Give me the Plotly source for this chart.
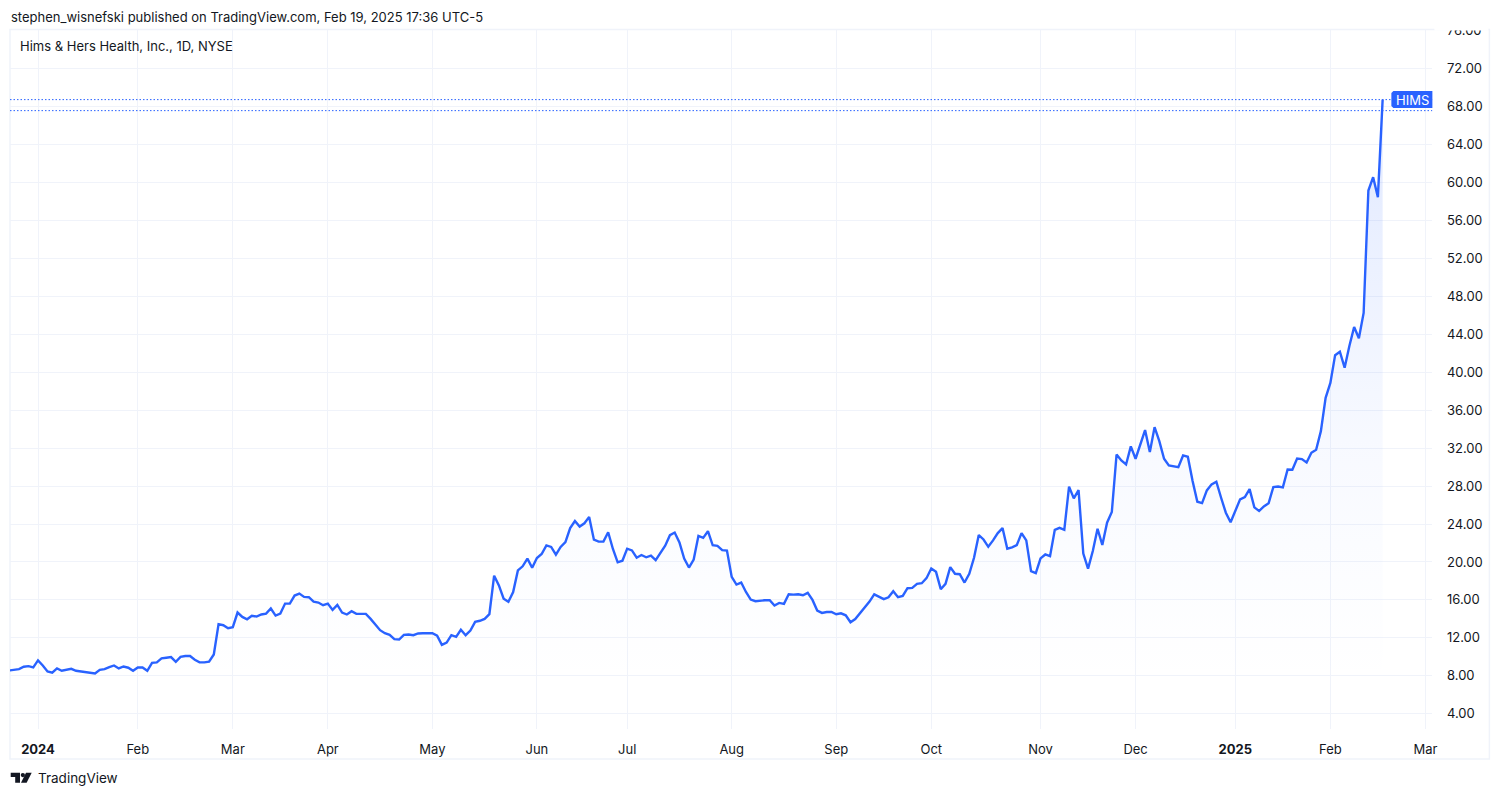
import plotly.graph_objects as go

# daily closes, one per trading day
closes = [
    8.56, 8.60, 8.70, 8.95, 9.02, 8.88, 9.62, 9.09, 8.46, 8.32,
    8.77, 8.53, 8.60, 8.74, 8.53, 8.46, 8.39, 8.39, 8.25, 8.63,
    8.70, 8.92, 9.09, 8.77, 8.98, 8.85, 8.53, 8.88, 8.88, 8.53,
    9.37, 9.41, 9.83, 9.90, 9.97, 9.48, 10.00, 10.08, 10.08, 9.69,
    9.41, 9.41, 9.48, 10.25, 13.44, 13.33, 13.02, 13.12, 14.67, 14.21,
    13.96, 14.32, 14.25, 14.46, 14.56, 15.09, 14.35, 14.56, 15.61, 15.61,
    16.46, 16.67, 16.32, 16.28, 15.82, 15.72, 15.44, 15.61, 14.95, 15.47,
    14.67, 14.46, 14.81, 14.53, 14.53, 14.53, 14.00, 13.44, 12.81, 12.49,
    12.32, 11.86, 11.82, 12.32, 12.35, 12.28, 12.46, 12.49, 12.51, 12.48,
    12.23, 11.26, 11.50, 12.28, 12.10, 12.85, 12.28, 12.77, 13.69, 13.80,
    14.00, 14.50, 18.55, 17.53, 16.12, 15.80, 16.82, 19.11, 19.54, 20.35,
    19.39, 20.42, 20.84, 21.75, 21.58, 20.77, 21.58, 22.10, 23.58, 24.32,
    23.73, 24.08, 24.75, 22.35, 22.14, 22.14, 23.13, 21.37, 19.96, 20.13,
    21.40, 21.22, 20.45, 20.73, 20.49, 20.66, 20.19, 20.93, 21.72, 22.82,
    23.10, 22.05, 20.36, 19.41, 20.25, 22.75, 22.54, 23.24, 21.76, 21.69,
    21.24, 21.20, 18.43, 17.62, 17.83, 16.84, 16.04, 15.86, 15.93, 15.96,
    15.96, 15.40, 15.68, 15.58, 16.60, 16.56, 16.60, 16.49, 16.74, 16.00,
    14.88, 14.63, 14.73, 14.73, 14.49, 14.59, 14.38, 13.64, 13.98, 14.59,
    15.20, 15.82, 16.58, 16.32, 16.08, 16.28, 16.92, 16.28, 16.42, 17.23,
    17.27, 17.69, 17.76, 18.29, 19.31, 18.96, 17.13, 17.69, 19.45, 18.75,
    18.71, 17.83, 18.75, 20.44, 22.83, 22.37, 21.60, 22.27, 23.04, 23.57,
    21.39, 21.53, 21.77, 23.04, 22.27, 19.03, 18.82, 20.37, 20.79, 20.61,
    23.39, 23.60, 23.39, 27.94, 26.70, 27.58, 20.88, 19.30, 21.16, 23.50,
    21.79, 24.14, 25.26, 31.33, 30.70, 30.28, 32.18, 30.88, 32.39, 33.90,
    31.58, 34.21, 32.74, 30.88, 30.18, 30.07, 30.00, 31.23, 31.09, 28.53,
    26.35, 26.21, 27.54, 28.18, 28.46, 26.77, 25.19, 24.18, 25.30, 26.60,
    26.84, 27.68, 25.75, 25.37, 25.86, 26.18, 27.90, 27.96, 27.86, 29.75,
    29.72, 30.91, 30.84, 30.49, 31.51, 31.82, 33.79, 37.30, 38.88, 41.80,
    42.16, 40.48, 42.77, 44.77, 43.58, 46.25, 59.16, 60.56, 58.46, 68.74,
]
bars = list(range(len(closes)))

# bar number of the first session of each month, the last one is past the data
month_bars = [6, 27, 47, 67, 89, 111, 130, 152, 174, 194, 217, 237, 258, 278, 298]
month_labels = ['<b>2024</b>', 'Feb', 'Mar', 'Apr', 'May', 'Jun', 'Jul', 'Aug', 'Sep',
                'Oct', 'Nov', 'Dec', '<b>2025</b>', 'Feb', 'Mar']
price_ticks = [4, 8, 12, 16, 20, 24, 28, 32, 36, 40, 44, 48, 52, 56, 60, 64, 68, 72, 76]
price_lines = [68.74, 67.58]

# the page comes out with the paper about 1494.6 x 789 and 8px down from the top
PAPER_W, PAPER_H, PAPER_TOP = 1494.6, 789, 8
BLUE = '#2962FF'
GRID = '#f0f3fa'
TEXT = '#131722'
FONT = 'Inter'
x_range = [0.105, 299.47]


def px(x):
    return x / PAPER_W


def py(y):
    return 1 - (y - PAPER_TOP) / PAPER_H


def paper_path(points):
    return 'M ' + ' L '.join(f'{px(x):.5f},{py(y):.5f}' for x, y in points) + ' Z'


traces = []
for level in price_lines:
    traces.append(go.Scatter(x=x_range, y=[level, level], mode='lines', hoverinfo='skip',
                             line=dict(color=BLUE, width=1, dash='1.5px,2px')))

traces.append(go.Scatter(
    x=bars, y=closes, mode='lines', name='HIMS',
    line=dict(color=BLUE, width=2.4, shape='linear'),
    fill='tozeroy',
    fillgradient=dict(
        type='vertical', start=0, stop=68.74,
        colorscale=[
            [0.00, 'rgba(41,98,255,0)'],
            [0.14, 'rgba(41,98,255,0.002)'],
            [0.30, 'rgba(41,98,255,0.016)'],
            [0.47, 'rgba(41,98,255,0.035)'],
            [0.60, 'rgba(41,98,255,0.06)'],
            [0.80, 'rgba(41,98,255,0.10)'],
            [1.00, 'rgba(41,98,255,0.15)'],
        ],
    ),
))

shapes = [
    # frame around the whole chart
    dict(type='rect', xref='paper', yref='paper', layer='below',
         x0=px(10), x1=px(1489), y0=py(759), y1=py(29.5),
         line=dict(color=GRID, width=1.5), fillcolor='rgba(0,0,0,0)'),
    # the top price label is cut by the pane edge
    dict(type='rect', xref='paper', yref='paper', layer='above',
         x0=px(1434), x1=px(1488), y0=py(30.5), y1=py(20),
         line=dict(width=0), fillcolor='white'),
    dict(type='path', xref='paper', yref='paper', layer='above',
         path=paper_path([(1393, 91), (1432, 91), (1432, 108), (1393, 108), (1391, 106), (1391, 93)]),
         line=dict(width=0), fillcolor=BLUE),
    # TradingView mark
    dict(type='path', xref='paper', yref='paper', layer='above',
         path=paper_path([(10.7, 772.7), (20, 772.7), (20, 782.7), (15.2, 782.7), (15.2, 777), (10.7, 777)]),
         line=dict(width=0), fillcolor=TEXT),
    dict(type='path', xref='paper', yref='paper', layer='above',
         path=paper_path([(26, 772.7), (31.7, 772.7), (26.6, 782.7), (21, 782.7)]),
         line=dict(width=0), fillcolor=TEXT),
    dict(type='circle', xref='paper', yref='paper', layer='above',
         x0=px(20.7), x1=px(25), y0=py(777.2), y1=py(772.9),
         line=dict(width=0), fillcolor=TEXT),
]

annotations = [
    dict(text='stephen_wisnefski published on TradingView.com, Feb 19, 2025 17:36 UTC-5',
         x=px(9), y=py(17), xref='paper', yref='paper', xanchor='left', yanchor='middle',
         showarrow=False, font=dict(family=FONT, size=13, color=TEXT)),
    dict(text='Hims & Hers Health, Inc., 1D, NYSE',
         x=px(18), y=py(46), xref='paper', yref='paper', xanchor='left', yanchor='middle',
         showarrow=False, font=dict(family=FONT, size=13, color=TEXT)),
    dict(text='HIMS',
         x=px(1412), y=py(99.5), xref='paper', yref='paper', xanchor='center', yanchor='middle',
         showarrow=False, font=dict(family=FONT, size=13, color='white')),
    dict(text='TradingView',
         x=px(35.5), y=py(778), xref='paper', yref='paper', xanchor='left', yanchor='middle',
         showarrow=False, font=dict(family=FONT, size=13.5, color=TEXT)),
]

fig = go.Figure(data=traces)
fig.update_layout(
    margin=dict(l=0, r=0, t=0, b=0),
    paper_bgcolor='white', plot_bgcolor='white',
    showlegend=False,
    shapes=shapes,
    annotations=annotations,
    font=dict(family=FONT, size=13, color=TEXT),
    xaxis=dict(
        domain=[px(10), px(1432)], range=x_range,
        tickmode='array', tickvals=month_bars, ticktext=month_labels,
        showgrid=True, gridcolor=GRID, gridwidth=1, zeroline=False, showline=False,
        ticks='outside', ticklen=8, tickcolor='rgba(0,0,0,0)',
        tickfont=dict(family=FONT, size=13, color=TEXT),
    ),
    yaxis=dict(
        domain=[py(729), py(30)], range=[2.39, 76.08], side='right',
        tickmode='array', tickvals=price_ticks, ticktext=[f'{p:.2f}' for p in price_ticks],
        showgrid=True, gridcolor=GRID, gridwidth=1, zeroline=False, showline=False,
        ticks='outside', ticklen=11, tickcolor='rgba(0,0,0,0)',
        tickfont=dict(family=FONT, size=13, color=TEXT),
    ),
)

fig.write_html(
    "out.html",
    config={'displayModeBar': False},
    default_width='1500px',
    default_height='797px',
    post_script=(
        "document.documentElement.style.overflow='hidden';"
        "document.body.style.margin='0';"
        "Plotly.Plots.resize('{plot_id}');"
    ),
)
